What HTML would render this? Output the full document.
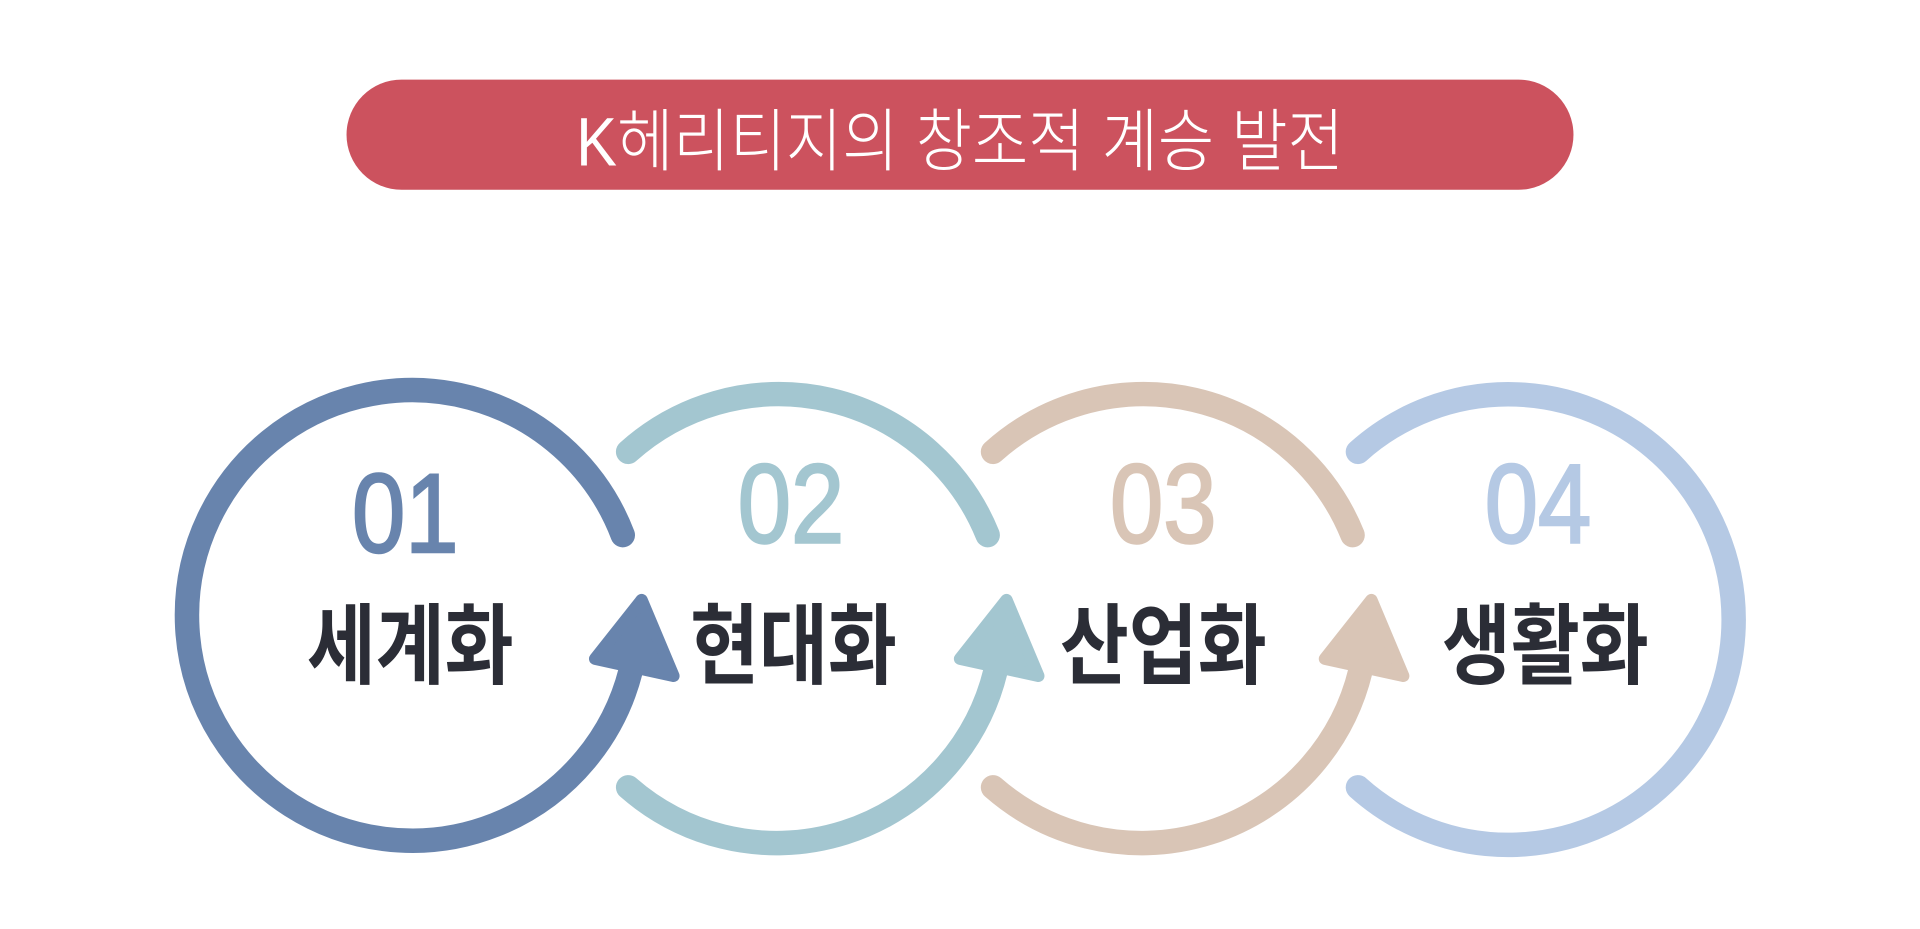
<!DOCTYPE html>
<html><head><meta charset="utf-8"><style>
html,body{margin:0;padding:0;background:#fff;}
svg{display:block;}
</style></head><body>
<svg width="1920" height="929" viewBox="0 0 1568 758.7" preserveAspectRatio="none" xmlns="http://www.w3.org/2000/svg">
<rect x="0" y="0" width="1568" height="759" fill="#fff"/>
<rect x="283" y="65" width="1002" height="90" rx="45" fill="#cc525e"/>
<text x="784" y="0" transform="translate(0,135) scale(1,1.12)" text-anchor="middle" font-family="'Liberation Sans','Noto Sans CJK KR',sans-serif" font-size="50" font-weight="300" fill="#fff">K헤리티지의 창조적 계승 발전</text>
<g fill="none" stroke-width="20" stroke-linecap="round">
 <path d="M508.6 437 A184 184 0 1 0 515 548" stroke="#6884ad"/>
 <path d="M513 369 A184 184 0 0 1 806.6 437" stroke="#a3c6d0"/>
 <path d="M513 643 A184 184 0 0 0 813 548" stroke="#a3c6d0"/>
 <path d="M811 369 A184 184 0 0 1 1104.6 437" stroke="#d9c5b6"/>
 <path d="M811 643 A184 184 0 0 0 1111 548" stroke="#d9c5b6"/>
 <path d="M1109 369 A184 184 0 1 1 1109 643" stroke="#b5c9e4"/>
</g>
<g stroke-width="10" stroke-linejoin="round">
 <polygon points="524,490 486,538 550,552" fill="#6884ad" stroke="#6884ad"/>
 <polygon points="822,490 784,538 848,552" fill="#a3c6d0" stroke="#a3c6d0"/>
 <polygon points="1120,490 1082,538 1146,552" fill="#d9c5b6" stroke="#d9c5b6"/>
</g>
<g font-family="'Liberation Sans','Noto Sans CJK KR',sans-serif" text-anchor="middle">
 <g transform="translate(331,451) scale(0.85,1)"><text x="0" y="0" font-size="92" fill="#6884ad" stroke="#6884ad" stroke-width="2">01</text></g>
 <g transform="translate(646,443) scale(0.85,1)"><text x="0" y="0" font-size="92" fill="#a3c6d0" stroke="#a3c6d0" stroke-width="2">02</text></g>
 <g transform="translate(950,443) scale(0.85,1)"><text x="0" y="0" font-size="92" fill="#d9c5b6" stroke="#d9c5b6" stroke-width="2">03</text></g>
 <g transform="translate(1256,443) scale(0.85,1)"><text x="0" y="0" font-size="92" fill="#b5c9e4" stroke="#b5c9e4" stroke-width="2">04</text></g>
 <g transform="translate(335,553) scale(0.85,1)"><text x="0" y="0" font-size="72" font-weight="bold" fill="#2b2d36">세계화</text></g>
 <g transform="translate(648,553) scale(0.85,1)"><text x="0" y="0" font-size="72" font-weight="bold" fill="#2b2d36">현대화</text></g>
 <g transform="translate(950,553) scale(0.85,1)"><text x="0" y="0" font-size="72" font-weight="bold" fill="#2b2d36">산업화</text></g>
 <g transform="translate(1262,553) scale(0.85,1)"><text x="0" y="0" font-size="72" font-weight="bold" fill="#2b2d36">생활화</text></g>
</g>
</svg>
</body></html>
